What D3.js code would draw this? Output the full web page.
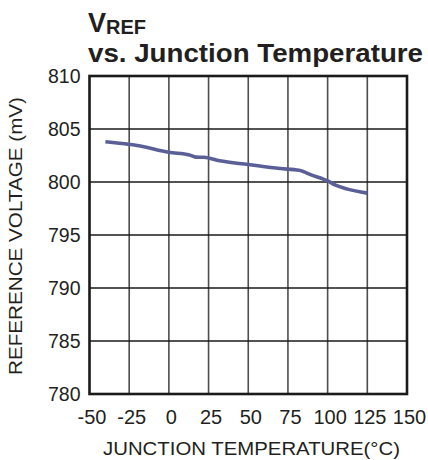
<!DOCTYPE html>
<html><head><meta charset="utf-8">
<script src="https://cdn.jsdelivr.net/npm/d3@7/dist/d3.min.js"></script>
<style>body{margin:0;background:#fff}svg{display:block;font-family:"Liberation Sans",Arial,sans-serif}</style>
</head><body>
<script>
const temps = [-40, -25, -20, 0, 13, 17, 22, 32, 50, 70, 82, 90, 100, 105, 112, 125];
const vref  = [803.8, 803.55, 803.45, 802.8, 802.55, 802.35, 802.33, 802.0, 801.65, 801.27, 801.1, 800.65, 800.1, 799.7, 799.35, 798.95];
const xTicks = [-50, -25, 0, 25, 50, 75, 100, 125, 150];
const yTicks = [780, 785, 790, 795, 800, 805, 810];

const W = 428, H = 460;
const m = {left: 89.5, right: 21, top: 76, bottom: 66};
const svg = d3.select("body").append("svg").attr("width", W).attr("height", H);
const x = d3.scaleLinear().domain([-50, 150]).range([m.left, W - m.right]);
const y = d3.scaleLinear().domain([780, 810]).range([H - m.bottom, m.top]);
const fmt = d => String(d);

// title
const t1 = svg.append("text").attr("x", 88).attr("y", 32).attr("font-weight", "bold").attr("fill", "#231f20");
t1.append("tspan").attr("font-size", 27).text("V");
t1.append("tspan").attr("font-size", 20).attr("dy", 2).text("REF");
svg.append("text").attr("x", 88).attr("y", 62).attr("font-weight", "bold").attr("font-size", 26)
  .attr("textLength", 335).attr("lengthAdjust", "spacingAndGlyphs")
  .attr("fill", "#231f20").text("vs. Junction Temperature");

// grid
svg.append("g").selectAll("line").data(xTicks.slice(1, -1)).join("line")
  .attr("x1", d => x(d)).attr("x2", d => x(d)).attr("y1", y(780)).attr("y2", y(810))
  .attr("stroke", "#4d4d4d").attr("stroke-width", 1.6);
svg.append("g").selectAll("line").data(yTicks.slice(1, -1)).join("line")
  .attr("y1", d => y(d)).attr("y2", d => y(d)).attr("x1", x(-50)).attr("x2", x(150))
  .attr("stroke", "#1a1a1a").attr("stroke-width", 1.6);

// axes labels
const xa = svg.append("g").attr("transform", `translate(2,${y(780)})`)
  .call(d3.axisBottom(x).tickValues(xTicks).tickSize(0).tickPadding(16).tickFormat(fmt));
xa.select(".domain").remove();
xa.selectAll("text").attr("font-size", 20).attr("fill", "#231f20").attr("font-family", "Liberation Sans, Arial, sans-serif");
const ya = svg.append("g").attr("transform", `translate(${x(-50)},0)`)
  .call(d3.axisLeft(y).tickValues(yTicks).tickSize(0).tickPadding(9).tickFormat(fmt));
ya.select(".domain").remove();
ya.selectAll("text").attr("font-size", 19.5).attr("fill", "#231f20").attr("font-family", "Liberation Sans, Arial, sans-serif");

// line
svg.append("path").datum(temps.map((t, i) => [t, vref[i]]))
  .attr("d", d3.line().x(d => x(d[0])).y(d => y(d[1])).curve(d3.curveMonotoneX))
  .attr("fill", "none").attr("stroke", "#5b5f97").attr("stroke-width", 3.6).attr("stroke-linejoin", "round");

// frame
svg.append("rect").attr("x", x(-50)).attr("y", y(810)).attr("width", x(150) - x(-50)).attr("height", y(780) - y(810))
  .attr("fill", "none").attr("stroke", "#1a1a1a").attr("stroke-width", 2.6);

// axis titles
svg.append("text").attr("x", 103).attr("y", 455)
  .attr("font-size", 18).attr("textLength", 297).attr("lengthAdjust", "spacingAndGlyphs")
  .attr("fill", "#231f20").text("JUNCTION TEMPERATURE(°C)");
svg.append("text").attr("transform", `translate(22,375) rotate(-90)`)
  .attr("font-size", 18).attr("textLength", 278).attr("lengthAdjust", "spacingAndGlyphs")
  .attr("fill", "#231f20").text("REFERENCE VOLTAGE (mV)");
</script>
</body></html>
